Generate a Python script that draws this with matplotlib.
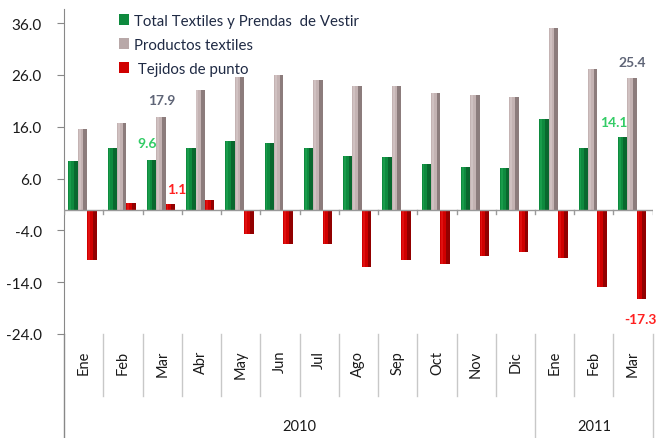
import numpy as np
import matplotlib.pyplot as plt
from matplotlib.patches import Patch
import matplotlib.transforms as mtransforms

plt.rcParams['font.family'] = ['Lato', 'DejaVu Sans']

meses = ['Ene', 'Feb', 'Mar', 'Abr', 'May', 'Jun', 'Jul', 'Ago', 'Sep', 'Oct',
         'Nov', 'Dic', 'Ene', 'Feb', 'Mar']
anios = ['2010', '2011']
total = [9.4, 11.9, 9.6, 11.9, 13.2, 12.9, 11.9, 10.4, 10.2, 8.8, 8.3, 8.1, 17.5, 11.9, 14.1]
productos = [15.6, 16.8, 17.9, 23.0, 25.6, 25.9, 25.0, 23.9, 23.9, 22.6, 22.1, 21.7, 35.0, 27.1, 25.4]
tejidos = [-9.7, 1.3, 1.1, 1.9, -4.8, -6.7, -6.7, -11.0, -9.7, -10.5, -8.9, -8.1, -9.4, -14.9, -17.3]
nombres = ['Total Textiles y Prendas  de Vestir', 'Productos textiles', ' Tejidos de punto']

fig = plt.figure(figsize=(6.6, 4.39), dpi=100)
ax = fig.add_axes([0.097, 0.237, 0.892, 0.740])

x = np.arange(len(meses)) - 0.03
w = 0.24
series = [(total, -w, '#0e8a3e', '#064d22', '#2fbf66'),
          (productos, 0, '#c4b3b3', '#5e5050', '#e8dede'),
          (tejidos, w, '#d00000', '#600000', '#ff3030')]
for vals, off, col, dark, light in series:
    ax.bar(x + off, vals, w, color=col, linewidth=0, zorder=2)
    # shading to imitate the 3D look
    ax.bar(x + off + w * 0.3, vals, w * 0.4, color=dark, alpha=0.55, linewidth=0, zorder=3)
    ax.bar(x + off - w * 0.3, vals, w * 0.2, color=light, alpha=0.35, linewidth=0, zorder=3)

ax.set_xlim(-0.5, len(meses) - 0.5)
ax.set_ylim(-24, 38.7)
ax.set_yticks(np.arange(-24, 37, 10))
ax.set_yticklabels(['%.1f' % v for v in np.arange(-24, 37, 10)])
ax.tick_params(axis='y', length=5, color='#888888', labelsize=11, labelcolor='#1a1a1a', pad=11)
ax.set_xticks([])
for s in ['top', 'right', 'bottom']:
    ax.spines[s].set_visible(False)
ax.spines['left'].set_color('#888888')

# zero line with small ticks
ax.axhline(0, color='#999999', lw=1, zorder=4)
for b in np.arange(-0.5, len(meses), 1):
    ax.plot([b, b], [0, -0.8], color='#999999', lw=1, zorder=4)

# category axis below the plot
trans = mtransforms.blended_transform_factory(ax.transData, ax.transAxes)
ax_h = 325.0
for b in np.arange(-0.5, len(meses), 1):
    bottom = -104 / ax_h if b in (-0.5, 11.5, 14.5) else -62 / ax_h
    c = '#888888' if b == -0.5 else '#c8c8c8'
    ax.plot([b, b], [0, bottom], color=c, lw=1, transform=trans, clip_on=False)
for i, m in enumerate(meses):
    ax.text(i, -16 / ax_h, m, rotation=90, ha='center', va='top', fontsize=10.5,
            color='#1a1a1a', transform=trans)
ax.text(5.5, -92 / ax_h, anios[0], ha='center', va='center', fontsize=10.5,
        color='#1a1a1a', transform=trans)
ax.text(13, -92 / ax_h, anios[1], ha='center', va='center', fontsize=10.5,
        color='#1a1a1a', transform=trans)

# data labels
gris, verde, rojo = '#5f6577', '#33cc66', '#ff2020'
ax.text(2.0, 21.1, '%.1f' % productos[2], ha='center', va='center',
        fontsize=10, fontweight='bold', color=gris)
ax.text(1.61, 12.8, '%.1f' % total[2], ha='center', va='center',
        fontsize=10, fontweight='bold', color=verde)
ax.text(2.36, 3.9, '%.1f' % tejidos[2], ha='center', va='center',
        fontsize=10, fontweight='bold', color=rojo)
ax.text(13.98, 28.4, '%.1f' % productos[14], ha='center', va='center',
        fontsize=10, fontweight='bold', color=gris)
ax.text(13.5, 17.0, '%.1f' % total[14], ha='center', va='center',
        fontsize=10, fontweight='bold', color=verde)
ax.text(14.19, -21.1, '%.1f' % tejidos[14], ha='center', va='center',
        fontsize=10, fontweight='bold', color=rojo)

handles = [Patch(facecolor='#0e8a3e'), Patch(facecolor='#b8a8a8'), Patch(facecolor='#d00000')]
ax.legend(handles, nombres, loc='upper left', bbox_to_anchor=(105 / 660, 1 - 1 / 439),
          bbox_transform=fig.transFigure, frameon=False, fontsize=10.8,
          handlelength=0.7, handleheight=0.7, handletextpad=0.35, labelspacing=0.68,
          labelcolor='#1f2a44')

fig.savefig('out.png', dpi=100)
